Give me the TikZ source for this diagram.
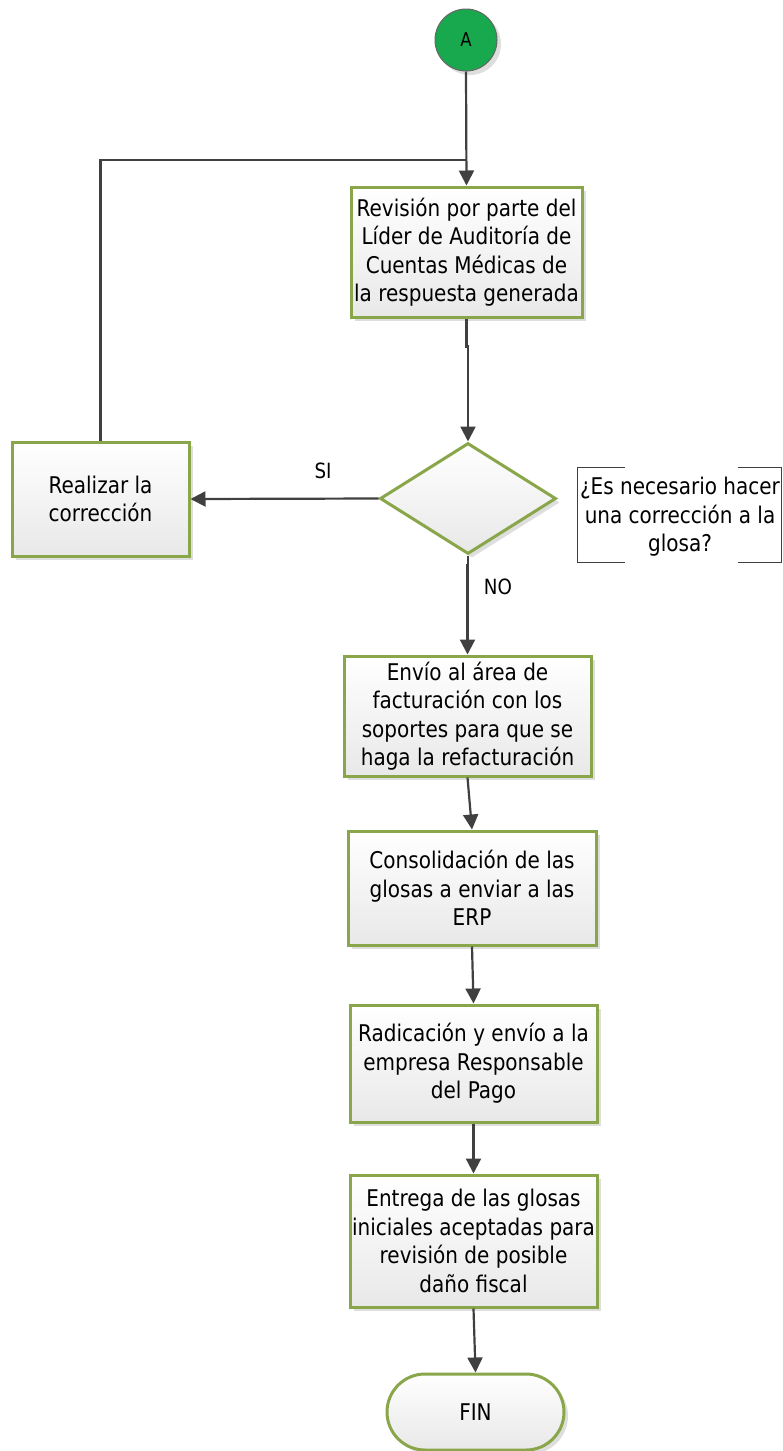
\documentclass[tikz,border=0pt]{standalone}
\usepackage{fontspec}
\setmainfont{DejaVu Sans}[FakeStretch=0.87]
\usetikzlibrary{shapes.geometric,arrows.meta,shadows}
\definecolor{boxgreen}{RGB}{138,166,74}
\definecolor{circgreen}{RGB}{24,168,78}
\definecolor{lncol}{RGB}{64,64,64}
\tikzset{
  procbox/.style={rectangle, draw=boxgreen, line width=3pt, top color=white, bottom color=black!9,
    align=center, inner sep=0pt, font=\fontsize{23}{28.5}\selectfont,
    drop shadow={shadow xshift=4pt, shadow yshift=-4pt, fill=black!13, opacity=1}},
  ln/.style={draw=lncol, line width=2.2pt},
  arr/.style={ln, -{Triangle[length=15pt,width=15pt]}},
  lbl/.style={font=\fontsize{21}{24}\selectfont, inner sep=0pt}
}
\begin{document}
\begin{tikzpicture}[x=1pt,y=-1pt]
\useasboundingbox (0,0) rectangle (782,1451);
% nodes
\node[circle, minimum size=62pt, inner sep=0pt, fill=circgreen, draw=black!60, line width=1pt,
  font=\fontsize{19}{20}\selectfont,
  drop shadow={shadow xshift=4pt, shadow yshift=-4pt, fill=black!13, opacity=1}] (A) at (466,40) {A};
\node[procbox, minimum width=231pt, minimum height=130pt] (rev) at (466.5,252)
  {Revisión por parte del\\Líder de Auditoría de\\Cuentas Médicas de\\la respuesta generada};
\node[procbox, minimum width=177pt, minimum height=114pt] (fix) at (100.5,499)
  {Realizar la\\corrección};
\node[procbox, shape=diamond, minimum width=176pt, minimum height=111pt] (dia) at (468,498.5) {};
\node[procbox, minimum width=247pt, minimum height=120pt] (env) at (467.5,716)
  {Envío al área de\\facturación con los\\soportes para que se\\haga la refacturación};
\node[procbox, minimum width=248pt, minimum height=114pt] (con) at (472,888)
  {Consolidación de las\\glosas a enviar a las\\ERP};
\node[procbox, minimum width=247pt, minimum height=117pt] (rad) at (473.5,1063.5)
  {Radicación y envío a la\\empresa Responsable\\del Pago};
\node[procbox, minimum width=247pt, minimum height=132pt] (ent) at (473.5,1241)
  {Entrega de las glosas\\iniciales aceptadas para\\revisión de posible\\daño fiscal};
\node[procbox, rounded corners=38pt, minimum width=177pt, minimum height=76pt] (fin) at (475.5,1412) {FIN};
% annotation
\node[align=center, inner sep=0pt, font=\fontsize{23}{28.5}\selectfont] (q) at (680,517)
  {¿Es necesario hacer\\una corrección a la\\glosa?};
\draw[draw=lncol, line width=1pt] (625,467) -- (577.5,467) -- (577.5,562) -- (625,562);
\draw[draw=lncol, line width=1pt] (738,467) -- (781,467) -- (781,562) -- (738,562);
% labels
\node[lbl] (si) at (323,471) {SI};
\node[lbl] (no) at (498,587) {NO};
% connectors
\coordinate (join) at (466,160);
\draw[arr] (A.south) -- (rev.north);
\draw[ln] (fix.north) |- (join);
\draw[arr] (rev.south) -- ++(0,28) -| (dia.north);
\draw[arr] (dia.west) -- (fix.east);
\draw[arr] (dia.south) -- ++(0,10) -| (env.north);
\draw[arr] (env.south) -- (con.north);
\draw[arr] (con.south) -- (rad.north);
\draw[arr] (rad.south) -- (ent.north);
\draw[arr] (ent.south) -- (fin.north);
\end{tikzpicture}
\end{document}
